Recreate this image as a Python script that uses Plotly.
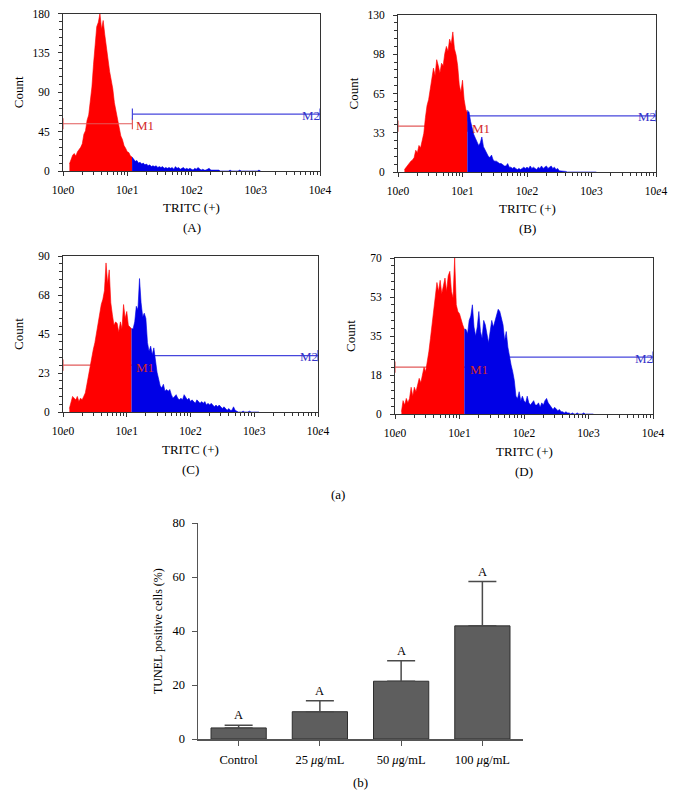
import math
import plotly.graph_objects as go

# figure fills the 673x795 window (page margin removed after plotting)
PAGE_OFF = 0
W, H = 673, 795

# ---------------- data ----------------
LOG_START = 0.10      # first histogram channel (decades)
LOG_STEP = 0.025      # channel width (decades)

PANEL_LABELS = ["(A)", "(B)", "(C)", "(D)"]
Y_MAX = [180, 130, 90, 70]
Y_TICK_TEXT = [["0", "45", "90", "135", "180"],
               ["0", "33", "65", "98", "130"],
               ["0", "23", "45", "68", "90"],
               ["0", "18", "35", "53", "70"]]
X_TICK_VALS = [0, 1, 2, 3, 4]
X_TICK_TEXT = ["10<i>e</i>0", "10<i>e</i>1", "10<i>e</i>2", "10<i>e</i>3", "10<i>e</i>4"]
X_TITLE = "TRITC (+)"
Y_TITLE = "Count"

M1_END = [1.08, 1.08, 1.09, 1.10]
M1_Y = [54, 38, 27, 21]
M2_Y = [65, 46.5, 32.5, 25.5]

RED_A = [8, 14, 18, 20, 17, 22, 24, 27, 31, 42,
         46, 58, 64, 80, 96, 122, 148, 165, 170, 180,
         162, 172, 156, 142, 124, 114, 104, 94, 78, 68,
         56, 50, 40, 36, 29, 26, 22, 21, 17, 16]
BLUE_A = [13, 11, 12, 9, 10, 8, 9, 7, 8, 6,
          7, 5, 6, 5, 6, 4, 5, 4, 5, 3,
          4, 3, 4, 3, 4, 2, 5, 3, 4, 2,
          3, 4, 2, 3, 2, 3, 2, 1, 3, 2,
          4, 2, 1, 2, 1, 1, 2, 3, 1, 1,
          1, 1, 0.5, 1, 0, 0, 0, 0, 0, 0,
          1, 0, 0, 0, 0, 0, 1, 0, 0, 0,
          0, 0, 0, 0, 0, 0, 0, 0, 1, 0]

RED_B = [2, 4, 6, 7, 9, 10, 12, 18, 16, 22,
         20, 26, 32, 45, 55, 60, 68, 75, 86, 80,
         93, 88, 82, 90, 88, 98, 104, 100, 110, 106,
         116, 102, 97, 88, 72, 66, 76, 60, 52, 49]
BLUE_B = [50, 42, 36, 31, 28, 25, 22, 24, 29, 21,
          18, 15, 13, 12, 14, 10, 9, 9, 8, 7,
          7, 6, 5, 5, 7, 4, 4, 3, 4, 3,
          2, 3, 2, 3, 4, 3, 4, 3, 5, 3,
          4, 3, 2, 4, 3, 5, 3, 4, 5, 3,
          4, 5, 3, 4, 2, 3, 1, 1, 0.5, 0.5,
          0.5, 0, 0, 0.5, 0, 0, 0, 0.5, 0, 0,
          0, 0, 0.5, 0, 0, 0, 0, 0, 0.5, 0]

RED_C = [2, 6, 9, 8, 7, 9, 6, 8, 7, 9,
         11, 16, 21, 28, 31, 36, 40, 46, 50, 58,
         62, 65, 70, 86, 74, 82, 63, 56, 50, 52,
         51, 46, 52, 48, 62, 54, 58, 50, 49, 48]
BLUE_C = [48, 52, 61, 59, 77, 63, 55, 57, 54, 40,
          35, 38, 33, 37, 29, 23, 19, 15, 14, 16,
          12, 13, 12, 13, 10, 8, 9, 10, 8, 7,
          8, 7, 10, 8, 7, 8, 6, 7, 6, 5,
          7, 6, 5, 6, 5, 6, 4, 5, 4, 5,
          4, 3, 4, 3, 4, 3, 2, 3, 2, 1,
          2, 1, 1, 3, 1, 0.5, 0, 0, 0, 0.5,
          0, 0, 0, 0.5, 0, 0, 0, 0, 0, 0]

RED_D = [1, 6, 4, 7, 5, 7, 12, 8, 12, 10,
         13, 16, 14, 17, 21, 19, 23, 28, 34, 40,
         46, 52, 59, 55, 60, 54, 57, 61, 55, 62,
         64, 55, 52, 70, 49, 46, 45, 42, 40, 38]
BLUE_D = [38, 36, 42, 44, 49, 39, 35, 39, 46, 37,
          34, 42, 40, 36, 32, 37, 42, 39, 42, 44,
          47, 46, 43, 40, 33, 37, 30, 25, 22, 19,
          15, 8, 7, 10, 6, 8, 6, 5, 8, 5,
          4, 5, 6, 4, 4, 5, 3, 5, 4, 6,
          7, 5, 4, 3, 2, 3, 2, 1.5, 2, 1,
          1, 0.5, 1, 0.5, 0.5, 0, 0.5, 0, 0, 0.5,
          0, 0, 0, 0.5, 0, 0, 0, 0, 0, 0]

REDS = [RED_A, RED_B, RED_C, RED_D]
BLUES = [BLUE_A, BLUE_B, BLUE_C, BLUE_D]

BAR_CATS = ["Control", "25 <i>μ</i>g/mL", "50 <i>μ</i>g/mL", "100 <i>μ</i>g/mL"]
BAR_VALS = [4.1, 10.1, 21.4, 41.9]
BAR_ERR = [1.0, 4.1, 7.6, 16.4]
BAR_LETTERS = ["A", "A", "A", "A"]
BAR_Y_TITLE = "TUNEL positive cells (%)"
BAR_Y_TICKS = [0, 20, 40, 60, 80]

# ---------------- layout constants (window pixels) ----------------
PANEL_BOX = [(63, 320, 13.5, 171), (398, 656, 15, 172),
             (63, 318, 256, 412), (395, 653, 258, 414)]
BAR_BOX = (198, 523, 523, 739)
GATE_ON_TOP = [True, False, False, False]

FONT = "Liberation Serif"
RED = "#ff0000"
BLUE = "#0000e6"
GATE_RED = "#e25a5a"
GATE_BLUE = "#4646dc"
AXIS_COL = "#333333"


def px_x(p):
    return (p - PAGE_OFF) / W


def px_y(p):
    return 1 - (p - PAGE_OFF) / H


fig = go.Figure()
annotations = []
layout_axes = {}

minor_vals = [d + math.log10(k) for d in range(4) for k in range(2, 10)]

for i in range(4):
    n = i + 1
    xa = "x" if n == 1 else f"x{n}"
    ya = "y" if n == 1 else f"y{n}"
    red = REDS[i]
    blue = BLUES[i]
    red_x = [LOG_START + k * LOG_STEP for k in range(len(red))]
    blue_x = [red_x[-1]] + [red_x[-1] + (k + 1) * LOG_STEP for k in range(len(blue))]
    blue_y = [red[-1]] + blue

    def add_gates():
        fig.add_trace(go.Scatter(
            x=[0, M1_END[i]], y=[M1_Y[i], M1_Y[i]], xaxis=xa, yaxis=ya,
            mode="lines+markers", line=dict(color=GATE_RED, width=1.2),
            marker=dict(symbol="line-ns-open", size=8, line=dict(color=GATE_RED, width=1.2)),
            cliponaxis=False, showlegend=False, hoverinfo="skip"))
        fig.add_trace(go.Scatter(
            x=[M1_END[i], 4], y=[M2_Y[i], M2_Y[i]], xaxis=xa, yaxis=ya,
            mode="lines+markers", line=dict(color=GATE_BLUE, width=1.2),
            marker=dict(symbol="line-ns-open", size=8, line=dict(color=GATE_BLUE, width=1.2)),
            cliponaxis=False, showlegend=False, hoverinfo="skip"))

    if not GATE_ON_TOP[i]:
        add_gates()

    fig.add_trace(go.Scatter(
        x=red_x, y=red, xaxis=xa, yaxis=ya, mode="lines", fill="tozeroy",
        fillcolor=RED, line=dict(color=RED, width=0.6), showlegend=False, hoverinfo="skip"))
    fig.add_trace(go.Scatter(
        x=blue_x, y=blue_y, xaxis=xa, yaxis=ya, mode="lines", fill="tozeroy",
        fillcolor=BLUE, line=dict(color=BLUE, width=0.6), showlegend=False, hoverinfo="skip"))

    if GATE_ON_TOP[i]:
        add_gates()

    annotations.append(dict(x=M1_END[i], y=M1_Y[i], xref=xa, yref=ya, text="M1",
                            showarrow=False, xanchor="left", yanchor="middle", xshift=2, yshift=-2,
                            font=dict(family=FONT, size=13, color="#d42a2a")))
    annotations.append(dict(x=4, y=M2_Y[i], xref=xa, yref=ya, text="M2",
                            showarrow=False, xanchor="right", yanchor="middle", xshift=2, yshift=-1,
                            font=dict(family=FONT, size=13, color="#3434c8")))

    x0, x1, y0, y1 = PANEL_BOX[i]
    ymax = Y_MAX[i]
    layout_axes["xaxis" if n == 1 else f"xaxis{n}"] = dict(
        domain=[px_x(x0), px_x(x1)], range=[0, 4], anchor=ya, automargin=False,
        tickmode="array", tickvals=X_TICK_VALS, ticktext=X_TICK_TEXT,
        ticks="outside", ticklen=4, tickcolor=AXIS_COL, ticklabelstandoff=4,
        ticklabeloverflow="allow",
        minor=dict(tickmode="array", tickvals=minor_vals, ticks="outside", ticklen=3,
                   tickcolor=AXIS_COL),
        showline=True, linecolor=AXIS_COL, linewidth=1, mirror=True,
        showgrid=False, zeroline=False, fixedrange=True,
        tickfont=dict(family=FONT, size=11.5, color="black"))
    layout_axes["yaxis" if n == 1 else f"yaxis{n}"] = dict(
        domain=[px_y(y1), px_y(y0)], range=[0, ymax], anchor=xa, automargin=False,
        tickmode="array", tickvals=[ymax * j / 4 for j in range(5)], ticktext=Y_TICK_TEXT[i],
        ticks="outside", ticklen=4, tickcolor=AXIS_COL, ticklabelstandoff=6,
        ticklabeloverflow="allow",
        minor=dict(tickmode="linear", tick0=0, dtick=ymax / 20, ticks="outside", ticklen=3,
                   tickcolor=AXIS_COL),
        showline=True, linecolor=AXIS_COL, linewidth=1, mirror=True,
        showgrid=False, zeroline=False, fixedrange=True,
        tickfont=dict(family=FONT, size=11.5, color="black"))

    cx = (x0 + x1) / 2
    annotations.append(dict(x=px_x(cx), y=px_y(y1 + 37), xref="paper", yref="paper",
                            text=X_TITLE, showarrow=False, xanchor="center", yanchor="middle",
                            font=dict(family=FONT, size=13, color="black")))
    annotations.append(dict(x=px_x(cx), y=px_y(y1 + 57), xref="paper", yref="paper",
                            text=PANEL_LABELS[i], showarrow=False, xanchor="center", yanchor="middle",
                            font=dict(family=FONT, size=13, color="black")))
    annotations.append(dict(x=px_x(x0 - 45), y=px_y((y0 + y1) / 2), xref="paper", yref="paper",
                            text=Y_TITLE, showarrow=False, textangle=-90, xanchor="center",
                            yanchor="middle", font=dict(family=FONT, size=13, color="black")))

# (a) label
annotations.append(dict(x=px_x(338), y=px_y(494), xref="paper", yref="paper", text="(a)",
                        showarrow=False, xanchor="center", yanchor="middle",
                        font=dict(family=FONT, size=13, color="black")))

# ---------------- bar chart ----------------
fig.add_trace(go.Bar(
    x=BAR_CATS, y=BAR_VALS, xaxis="x5", yaxis="y5",
    marker=dict(color="#5e5e5e", line=dict(color="#2e2e2e", width=1)),
    error_y=dict(type="data", array=BAR_ERR, arrayminus=[0] * len(BAR_ERR), symmetric=False,
                 width=14, thickness=1.5, color="#4a4a4a"),
    width=0.68, showlegend=False, hoverinfo="skip"))

for c, v, e, t in zip(BAR_CATS, BAR_VALS, BAR_ERR, BAR_LETTERS):
    annotations.append(dict(x=c, y=v + e, xref="x5", yref="y5", text=t, showarrow=False,
                            xanchor="center", yanchor="bottom", yshift=1,
                            font=dict(family=FONT, size=12.5, color="black")))

bx0, bx1, by0, by1 = BAR_BOX
layout_axes["xaxis5"] = dict(
    domain=[px_x(bx0), px_x(bx1)], anchor="y5", type="category", range=[-0.5, 3.5],
    automargin=False, ticklabeloverflow="allow",
    ticks="outside", ticklen=5, tickcolor="#555555", showline=True, linecolor="#555555",
    linewidth=1.5, showgrid=False, zeroline=False, fixedrange=True, ticklabelstandoff=3,
    tickfont=dict(family=FONT, size=12.5, color="black"))
layout_axes["yaxis5"] = dict(
    domain=[px_y(by1), px_y(by0)], anchor="x5", range=[0, 80], automargin=False,
    tickmode="array", tickvals=BAR_Y_TICKS, ticklabeloverflow="allow",
    ticks="outside", ticklen=5, tickcolor="#555555", showline=True, linecolor="#555555",
    linewidth=1.5, showgrid=False, zeroline=False, fixedrange=True, ticklabelstandoff=4,
    tickfont=dict(family=FONT, size=12.5, color="black"))

annotations.append(dict(x=px_x(158), y=px_y((by0 + by1) / 2), xref="paper", yref="paper",
                        text=BAR_Y_TITLE, showarrow=False, textangle=-90,
                        xanchor="center", yanchor="middle",
                        font=dict(family=FONT, size=12, color="black")))
annotations.append(dict(x=px_x((bx0 + bx1) / 2), y=px_y(782), xref="paper", yref="paper",
                        text="(b)", showarrow=False, xanchor="center", yanchor="middle",
                        font=dict(family=FONT, size=13, color="black")))

fig.update_layout(
    width=W, height=H, margin=dict(l=0, r=0, t=0, b=0, autoexpand=False),
    paper_bgcolor="white", plot_bgcolor="white", hovermode=False,
    annotations=annotations, showlegend=False,
    **layout_axes)

fig.write_html(
    "out.html",
    config={"displayModeBar": False, "staticPlot": True},
    post_script="document.body.style.margin='0px';document.body.style.overflow='hidden';")
